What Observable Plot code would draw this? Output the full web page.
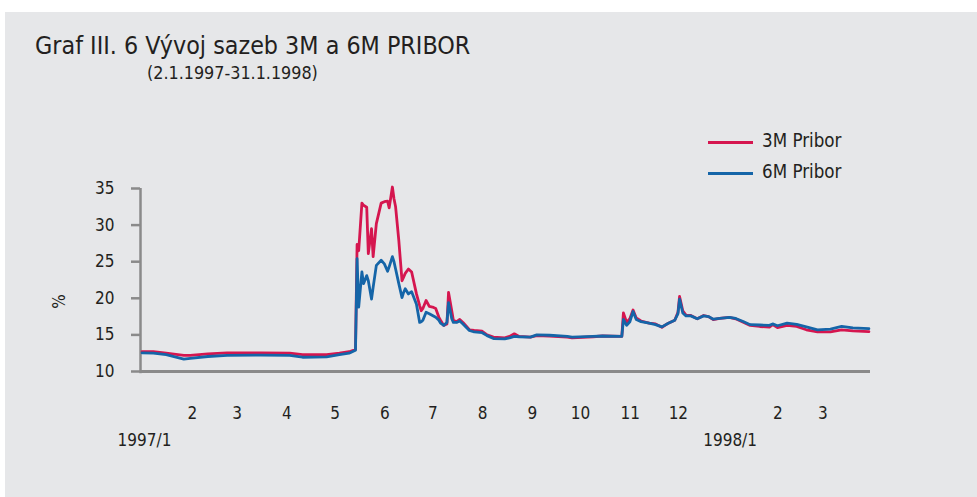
<!DOCTYPE html>
<html>
<head>
<meta charset="utf-8">
<script src="https://cdn.jsdelivr.net/npm/d3@7"></script>
<script src="https://cdn.jsdelivr.net/npm/@observablehq/plot@0.6"></script>
<style>
  html, body { margin: 0; padding: 0; background: #ffffff; }
  #wrap { position: relative; width: 977px; height: 497px; overflow: hidden; font-family: "Liberation Sans Narrow", "DejaVu Sans Condensed", "Liberation Sans", sans-serif; color: #231f20; }
  #panel { position: absolute; left: 5px; top: 12px; width: 972px; height: 485px; background: #e6e7e9; }
  #chart { position: absolute; left: 0; top: 0; }
  .t { position: absolute; white-space: nowrap; line-height: 1; }
  #title { left: 35px; top: 34px; font-size: 24.8px; }
  #subtitle { left: 147px; top: 64px; font-size: 17.8px; }
  .lg { position: absolute; height: 3px; width: 45px; left: 708px; }
  .lgt { left: 762px; font-size: 18.6px; }
  #pct { left: 52px; top: 293px; font-size: 17px; transform: rotate(-90deg); transform-origin: center; }
</style>
</head>
<body>
<div id="wrap">
  <div id="panel"></div>
  <div id="chart"></div>
  <div class="t" id="title">Graf III. 6 Vývoj sazeb 3M a 6M PRIBOR</div>
  <div class="t" id="subtitle">(2.1.1997-31.1.1998)</div>
  <div class="lg" style="top:141px;background:#d5164f"></div>
  <div class="t lgt" style="top:132px">3M Pribor</div>
  <div class="lg" style="top:172px;background:#1565a8"></div>
  <div class="t lgt" style="top:163px">6M Pribor</div>
  <div class="t" id="pct">%</div>
</div>
<script>
const dates = [
  "1997-01-02","1997-01-09","1997-01-17","1997-01-28","1997-02-01","1997-02-12","1997-02-24","1997-03-17",
  "1997-04-04","1997-04-12","1997-04-27","1997-05-05","1997-05-11","1997-05-15","1997-05-16","1997-05-17",
  "1997-05-19","1997-05-20","1997-05-22","1997-05-23","1997-05-25","1997-05-26","1997-05-28","1997-05-31",
  "1997-06-02","1997-06-04","1997-06-05","1997-06-07","1997-06-08","1997-06-09","1997-06-11","1997-06-13",
  "1997-06-14","1997-06-15","1997-06-17","1997-06-19","1997-06-22","1997-06-24","1997-06-25","1997-06-26",
  "1997-06-28","1997-06-30","1997-07-02","1997-07-04","1997-07-06","1997-07-07","1997-07-09","1997-07-11",
  "1997-07-12","1997-07-14","1997-07-15","1997-07-17","1997-07-19","1997-07-21","1997-07-25","1997-07-28",
  "1997-08-02","1997-08-05","1997-08-09","1997-08-16","1997-08-19","1997-08-22","1997-08-25","1997-09-01",
  "1997-09-05","1997-09-13","1997-09-24","1997-09-27","1997-10-10","1997-10-16","1997-10-28","1997-10-29",
  "1997-10-31","1997-11-02","1997-11-04","1997-11-06","1997-11-09","1997-11-14","1997-11-18","1997-11-22",
  "1997-11-26","1997-11-30","1997-12-02","1997-12-03","1997-12-05","1997-12-07","1997-12-10","1997-12-14",
  "1997-12-18","1997-12-21","1997-12-24","1997-12-28","1998-01-03","1998-01-07","1998-01-12","1998-01-16",
  "1998-01-22","1998-01-28","1998-01-30","1998-02-02","1998-02-08","1998-02-14","1998-02-20","1998-02-27",
  "1998-03-07","1998-03-14","1998-03-21","1998-03-31"
];
const pribor3M = [
  12.7,12.7,12.5,12.2,12.2,12.4,12.55,12.55,
  12.5,12.3,12.3,12.5,12.7,13.0,27.35,26.5,
  33.0,32.7,32.45,26.1,29.5,25.7,30.2,33.0,
  33.2,33.27,32.35,35.2,33.6,32.5,27.9,22.4,
  22.9,23.4,24.0,23.6,20.6,19.0,18.3,18.6,
  19.7,18.9,18.8,18.6,17.4,17.0,16.3,16.5,
  20.8,18.3,17.0,16.8,17.1,16.7,15.7,15.6,
  15.5,15.0,14.7,14.6,14.8,15.15,14.8,14.7,
  14.9,14.85,14.7,14.6,14.75,14.85,14.8,18.0,
  16.7,17.2,18.4,17.3,16.9,16.6,16.5,16.05,
  16.6,17.0,18.1,20.25,18.3,17.7,17.65,17.2,
  17.65,17.5,17.1,17.25,17.4,17.2,16.7,16.3,
  16.15,16.05,16.4,16.0,16.3,16.15,15.7,15.4,
  15.4,15.7,15.55,15.45
];
const pribor6M = [
  12.55,12.5,12.3,11.7,11.8,12.05,12.2,12.25,
  12.2,11.95,12.0,12.3,12.5,12.9,25.4,18.8,
  23.6,22.0,23.1,22.4,19.9,21.5,24.5,25.2,
  24.7,23.7,24.3,25.7,25.0,24.0,22.0,20.1,
  20.8,21.3,20.6,20.9,19.2,16.7,16.8,17.0,
  18.1,17.9,17.65,17.4,17.0,16.6,16.3,16.7,
  19.4,17.2,16.7,16.7,16.9,16.5,15.6,15.4,
  15.3,14.9,14.5,14.45,14.6,14.8,14.75,14.7,
  15.0,14.95,14.8,14.7,14.8,14.85,14.8,17.1,
  16.3,16.8,18.2,17.1,16.8,16.6,16.4,16.1,
  16.6,17.0,17.9,19.9,18.0,17.6,17.6,17.2,
  17.6,17.5,17.15,17.25,17.4,17.25,16.8,16.4,
  16.35,16.3,16.5,16.25,16.6,16.45,16.1,15.7,
  15.8,16.15,15.95,15.85
];
const monthTickDates = ["1997-02-01","1997-03-01","1997-04-01","1997-05-01","1997-06-01","1997-07-01","1997-08-01","1997-09-01","1997-10-01","1997-11-01","1997-12-01","1998-02-01","1998-03-01"];
const monthTickLabels = ["2","3","4","5","6","7","8","9","10","11","12","2","3"];
const yearTickDates = ["1997-01-01","1998-01-01"];
const yearTickLabels = ["1997/1","1998/1"];
const yTicks = [10, 15, 20, 25, 30, 35];
const xDomain = ["1997-01-01", "1998-04-01"];
const yDomain = [10, 35];

const parse = s => new Date(s + "T00:00:00Z");
const rows3 = dates.map((d, i) => ({date: parse(d), v: pribor3M[i]}));
const rows6 = dates.map((d, i) => ({date: parse(d), v: pribor6M[i]}));
const mTicks = monthTickDates.map(parse);
const yrTicks = yearTickDates.map(parse);
const lab = (ticks, labels) => d => labels[ticks.findIndex(t => +t === +d)];

const fontFam = '"Liberation Sans Narrow", "DejaVu Sans Condensed", "Liberation Sans", sans-serif';
const chart = Plot.plot({
  width: 977,
  height: 497,
  marginLeft: 140,
  marginRight: 107,
  marginTop: 188,
  marginBottom: 126,
  style: {background: "transparent", fontFamily: fontFam, fontSize: "17px", color: "#231f20", overflow: "visible"},
  x: {type: "utc", domain: xDomain.map(parse)},
  y: {domain: yDomain},
  marks: [
    Plot.axisY({ticks: yTicks, tickSize: 9, tickPadding: 17, label: null, stroke: "#8a8a8a", strokeWidth: 2.5, strokeOpacity: 1, fill: "#231f20"}),
    Plot.axisX({ticks: mTicks, tickSize: 0, tickPadding: 35, tickFormat: lab(mTicks, monthTickLabels), label: null, dx: 2, fill: "#231f20"}),
    Plot.axisX({ticks: yrTicks, tickSize: 0, tickPadding: 62, tickFormat: lab(yrTicks, yearTickLabels), label: null, dx: 4, fill: "#231f20"}),
    Plot.ruleX([parse(xDomain[0])], {y1: 9.7, y2: 35, stroke: "#8a8a8a", strokeWidth: 2.5}),
    Plot.ruleY([10], {stroke: "#8a8a8a", strokeWidth: 3}),
    Plot.line(rows3, {x: "date", y: "v", stroke: "#d5164f", strokeWidth: 2.8}),
    Plot.line(rows6, {x: "date", y: "v", stroke: "#1565a8", strokeWidth: 2.8})
  ]
});
document.getElementById("chart").appendChild(chart);
</script>
</body>
</html>
